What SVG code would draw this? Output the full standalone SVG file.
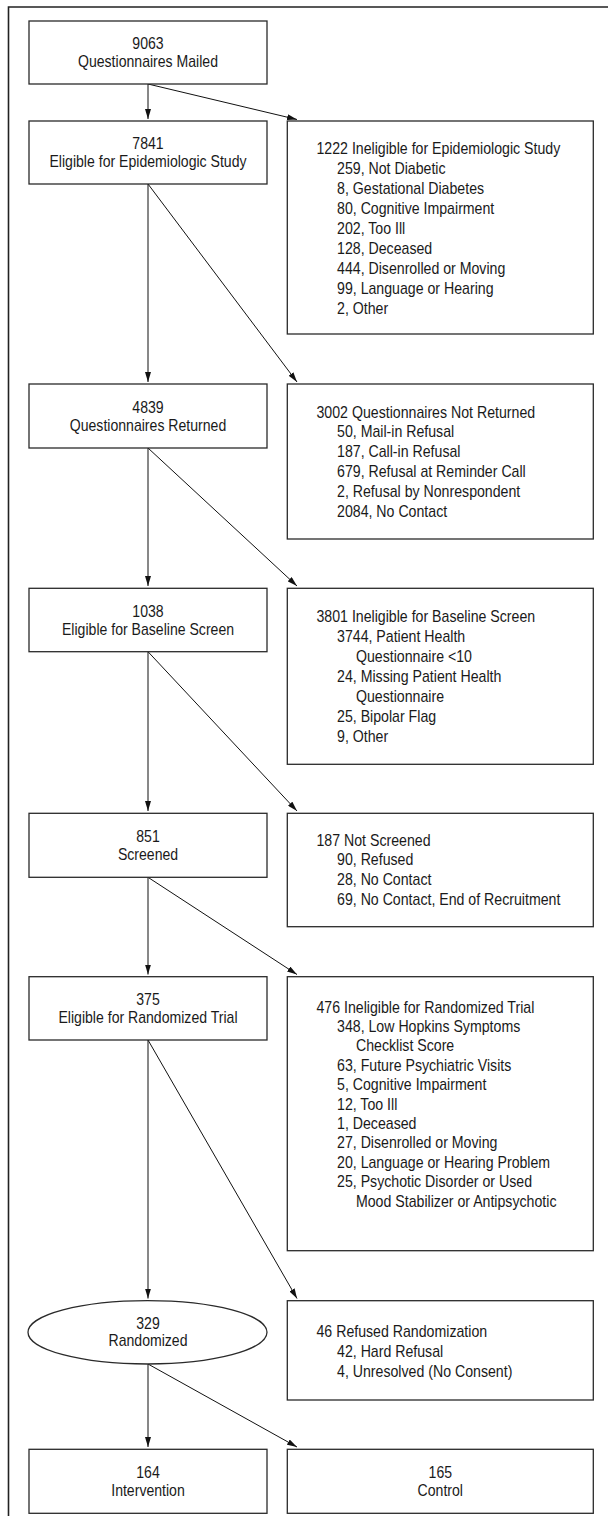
<svg xmlns="http://www.w3.org/2000/svg" width="608" height="1520" viewBox="0 0 608 1520">
<style>
text{font-family:"Liberation Sans",Arial,sans-serif;font-size:16px;fill:#1a1a1a}
.c{text-anchor:middle}
.box{fill:#fff;stroke:#2a2a2a;stroke-width:1.3}
.frame{fill:none;stroke:#222;stroke-width:1.6}
.conn line{stroke:#111;stroke-width:1;marker-end:url(#ah)}
</style>
<defs>
<marker id="ah" markerUnits="userSpaceOnUse" markerWidth="10" markerHeight="6" refX="10" refY="3" orient="auto">
<path d="M0,0 L10,3 L0,6 z" fill="#111"/>
</marker>
</defs>
<rect width="608" height="1520" fill="#fff"/>
<path class="frame" d="M8.5,1516 V7 H608"/>

<g id="connectors" class="conn">
<line x1="148" y1="84" x2="148" y2="119"/>
<line x1="148" y1="84" x2="297" y2="119.5"/>
<line x1="148" y1="184" x2="148" y2="382"/>
<line x1="148" y1="184" x2="297" y2="382"/>
<line x1="148" y1="448" x2="148" y2="586"/>
<line x1="148" y1="448" x2="297" y2="586"/>
<line x1="148" y1="651.7" x2="148" y2="811"/>
<line x1="148" y1="651.7" x2="297" y2="811"/>
<line x1="148" y1="877.3" x2="148" y2="974.5"/>
<line x1="148" y1="877.3" x2="297" y2="974.5"/>
<line x1="148" y1="1040" x2="148" y2="1298.5"/>
<line x1="148" y1="1040" x2="297" y2="1298.5"/>
<line x1="148" y1="1364" x2="148" y2="1447"/>
<line x1="148" y1="1364" x2="297" y2="1447"/>
</g>

<g id="n_mailed">
<rect class="box" x="29" y="21" width="238" height="63"/>
<text class="c" transform="translate(148,49.3) scale(0.88,1)"><tspan x="0" y="0">9063</tspan><tspan x="0" y="18">Questionnaires Mailed</tspan></text>
</g>

<g id="n_eligible_epi">
<rect class="box" x="29" y="121" width="238" height="63"/>
<text class="c" transform="translate(148,149.3) scale(0.88,1)"><tspan x="0" y="0">7841</tspan><tspan x="0" y="18">Eligible for Epidemiologic Study</tspan></text>
</g>

<g id="n_inelig_epi">
<rect class="box" x="287.3" y="121" width="306" height="213"/>
<text transform="translate(316.5,153.8) scale(0.885,1)">
<tspan x="0" y="0">1222 Ineligible for Epidemiologic Study</tspan>
<tspan x="23.2" y="20">259, Not Diabetic</tspan>
<tspan x="23.2" y="40">8, Gestational Diabetes</tspan>
<tspan x="23.2" y="60">80, Cognitive Impairment</tspan>
<tspan x="23.2" y="80">202, Too Ill</tspan>
<tspan x="23.2" y="100">128, Deceased</tspan>
<tspan x="23.2" y="120">444, Disenrolled or Moving</tspan>
<tspan x="23.2" y="140">99, Language or Hearing</tspan>
<tspan x="23.2" y="160">2, Other</tspan>
</text>
</g>

<g id="n_returned">
<rect class="box" x="29" y="384" width="238" height="64"/>
<text class="c" transform="translate(148,412.8) scale(0.88,1)"><tspan x="0" y="0">4839</tspan><tspan x="0" y="18">Questionnaires Returned</tspan></text>
</g>

<g id="n_not_returned">
<rect class="box" x="287.3" y="384" width="306" height="155"/>
<text transform="translate(316.5,417.5) scale(0.885,1)">
<tspan x="0" y="0">3002 Questionnaires Not Returned</tspan>
<tspan x="23.2" y="20">50, Mail-in Refusal</tspan>
<tspan x="23.2" y="40">187, Call-in Refusal</tspan>
<tspan x="23.2" y="60">679, Refusal at Reminder Call</tspan>
<tspan x="23.2" y="80">2, Refusal by Nonrespondent</tspan>
<tspan x="23.2" y="100">2084, No Contact</tspan>
</text>
</g>

<g id="n_eligible_base">
<rect class="box" x="29" y="588.3" width="238" height="63.4"/>
<text class="c" transform="translate(148,616.8) scale(0.88,1)"><tspan x="0" y="0">1038</tspan><tspan x="0" y="18">Eligible for Baseline Screen</tspan></text>
</g>

<g id="n_inelig_base">
<rect class="box" x="287.3" y="588.3" width="306" height="176"/>
<text transform="translate(316.5,622) scale(0.885,1)">
<tspan x="0" y="0">3801 Ineligible for Baseline Screen</tspan>
<tspan x="23.2" y="20">3744, Patient Health</tspan>
<tspan x="44.6" y="40">Questionnaire &lt;10</tspan>
<tspan x="23.2" y="60">24, Missing Patient Health</tspan>
<tspan x="44.6" y="80">Questionnaire</tspan>
<tspan x="23.2" y="100">25, Bipolar Flag</tspan>
<tspan x="23.2" y="120">9, Other</tspan>
</text>
</g>

<g id="n_screened">
<rect class="box" x="29" y="813.3" width="238" height="64"/>
<text class="c" transform="translate(148,842) scale(0.88,1)"><tspan x="0" y="0">851</tspan><tspan x="0" y="18">Screened</tspan></text>
</g>

<g id="n_not_screened">
<rect class="box" x="287.3" y="813.3" width="306" height="113.4"/>
<text transform="translate(316.5,845.5) scale(0.885,1)">
<tspan x="0" y="0">187 Not Screened</tspan>
<tspan x="23.2" y="20">90, Refused</tspan>
<tspan x="23.2" y="40">28, No Contact</tspan>
<tspan x="23.2" y="60">69, No Contact, End of Recruitment</tspan>
</text>
</g>

<g id="n_eligible_rt">
<rect class="box" x="29" y="976.7" width="238" height="63.3"/>
<text class="c" transform="translate(148,1005) scale(0.88,1)"><tspan x="0" y="0">375</tspan><tspan x="0" y="18">Eligible for Randomized Trial</tspan></text>
</g>

<g id="n_inelig_rt">
<rect class="box" x="287.3" y="976.7" width="306" height="274"/>
<text transform="translate(316.5,1012.7) scale(0.885,1)">
<tspan x="0" y="0">476 Ineligible for Randomized Trial</tspan>
<tspan x="23.2" y="19.4">348, Low Hopkins Symptoms</tspan>
<tspan x="44.6" y="38.8">Checklist Score</tspan>
<tspan x="23.2" y="58.2">63, Future Psychiatric Visits</tspan>
<tspan x="23.2" y="77.6">5, Cognitive Impairment</tspan>
<tspan x="23.2" y="97">12, Too Ill</tspan>
<tspan x="23.2" y="116.4">1, Deceased</tspan>
<tspan x="23.2" y="135.8">27, Disenrolled or Moving</tspan>
<tspan x="23.2" y="155.2">20, Language or Hearing Problem</tspan>
<tspan x="23.2" y="174.6">25, Psychotic Disorder or Used</tspan>
<tspan x="44.6" y="194">Mood Stabilizer or Antipsychotic</tspan>
</text>
</g>

<g id="n_randomized">
<ellipse class="box" cx="147.5" cy="1332.3" rx="119.5" ry="31.7"/>
<text class="c" transform="translate(148,1328.5) scale(0.88,1)"><tspan x="0" y="0">329</tspan><tspan x="0" y="18">Randomized</tspan></text>
</g>

<g id="n_refused_rand">
<rect class="box" x="287.3" y="1300.7" width="306" height="99.3"/>
<text transform="translate(316.5,1336.7) scale(0.885,1)">
<tspan x="0" y="0">46 Refused Randomization</tspan>
<tspan x="23.2" y="20">42, Hard Refusal</tspan>
<tspan x="23.2" y="40">4, Unresolved (No Consent)</tspan>
</text>
</g>

<g id="n_intervention">
<rect class="box" x="29" y="1449.3" width="238" height="64"/>
<text class="c" transform="translate(148,1478) scale(0.88,1)"><tspan x="0" y="0">164</tspan><tspan x="0" y="18">Intervention</tspan></text>
</g>

<g id="n_control">
<rect class="box" x="287.3" y="1449.3" width="306" height="64"/>
<text class="c" transform="translate(440.3,1478) scale(0.88,1)"><tspan x="0" y="0">165</tspan><tspan x="0" y="18">Control</tspan></text>
</g>
</svg>
